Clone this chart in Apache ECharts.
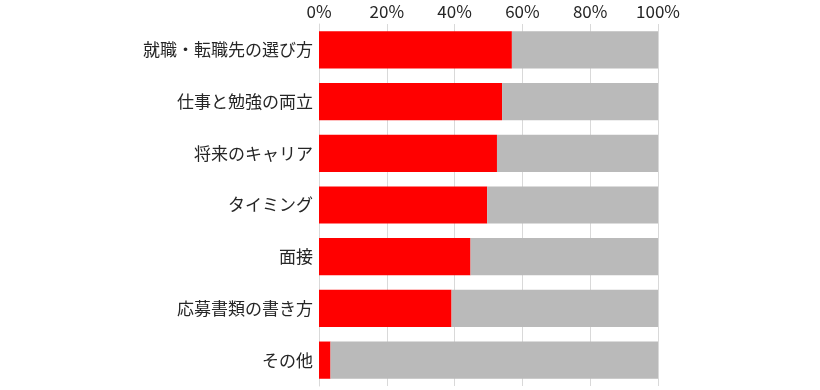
<!DOCTYPE html>
<html><head><meta charset="utf-8">
<script src="https://cdn.jsdelivr.net/npm/echarts@6/dist/echarts.min.js"></script>
<style>html,body{margin:0;padding:0;background:#fff}#c{width:820px;height:390px}</style>
</head><body><div id="c"></div>
<script>
const categories = ["就職・転職先の選び方","仕事と勉強の両立","将来のキャリア","タイミング","面接","応募書類の書き方","その他"];
const redValues = [56.9, 54.0, 52.5, 49.6, 44.7, 39.1, 3.4];
const grayValues = redValues.map(v => +(100 - v).toFixed(1));
const tickLabels = ["0%","20%","40%","60%","80%","100%"];

const chart = echarts.init(document.getElementById('c'));
const font = '"Noto Sans CJK JP", "Noto Sans", sans-serif';
chart.setOption({
  animation: false,
  grid: {left: 319, right: 162, top: 24, bottom: 4, containLabel: false},
  xAxis: {
    type: 'value', position: 'top', min: 0, max: 100, interval: 20,
    axisLine: {show: false}, axisTick: {show: false},
    splitLine: {show: true, lineStyle: {color: '#d9d9d9', width: 1}},
    axisLabel: {formatter: v => tickLabels[v / 20], color: '#262626', fontSize: 17, fontFamily: font, margin: 4}
  },
  yAxis: {
    type: 'category', data: categories, inverse: true,
    axisLine: {show: true, lineStyle: {color: '#d9d9d9', width: 1}},
    axisTick: {show: false},
    axisLabel: {color: '#262626', fontSize: 17, fontFamily: font, margin: 6}
  },
  series: [
    {type: 'bar', stack: 's', data: redValues, itemStyle: {color: '#ff0000'}, barCategoryGap: '28%'},
    {type: 'bar', stack: 's', data: grayValues, itemStyle: {color: '#bababa'}, barCategoryGap: '28%'}
  ]
});
</script></body></html>
